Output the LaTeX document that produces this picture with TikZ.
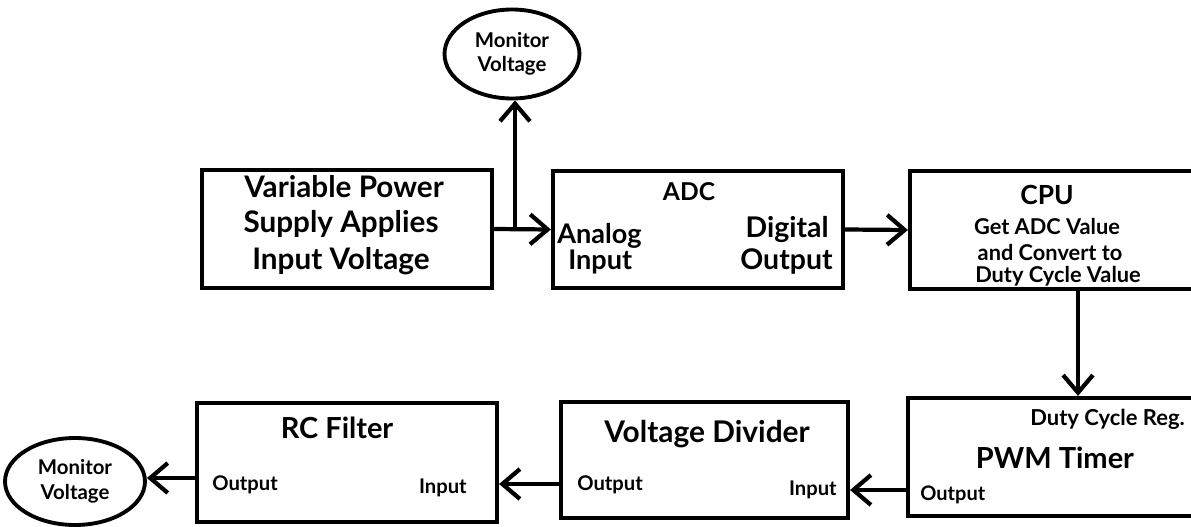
\documentclass[tikz,border=0pt]{standalone}
\usepackage{fontspec}
\setmainfont{Lato}
\usetikzlibrary{arrows.meta,shapes.geometric}
\newcommand\myfs[1]{\fontsize{#1}{1.2\dimexpr #1\relax}\selectfont\bfseries}
\tikzset{
  box/.style={draw, line width=2.4pt, rectangle, inner sep=0pt},
  oval/.style={draw, line width=2.2pt, ellipse, inner sep=0pt, align=center},
  arr/.style={line width=2.4pt, -{Straight Barb[length=10pt,width=17pt,line width=2.4pt]}},
  lbl/.style={inner sep=0pt, anchor=base},
  lblw/.style={inner sep=0pt, anchor=base west},
  lble/.style={inner sep=0pt, anchor=base east},
}
\begin{document}
\begin{tikzpicture}[x=0.02cm, y=-0.02cm]
\useasboundingbox (0,0) rectangle (1191,527);
\fill[white] (0,0) rectangle (1191,527);
\clip (0,0) rectangle (1191,527);

% boxes
\node[box, minimum width=5.8cm, minimum height=2.36cm] (vps) at (347,229) {};
\node[box, minimum width=5.8cm, minimum height=2.34cm] (adc) at (698,229.5) {};
\node[box, minimum width=6.4cm, minimum height=2.36cm] (cpu) at (1070,230) {};
\node[box, minimum width=6.44cm, minimum height=2.36cm] (pwm) at (1069,457) {};
\node[box, minimum width=5.74cm, minimum height=2.32cm] (vd) at (704.5,460) {};
\node[box, minimum width=6cm, minimum height=2.38cm] (rc) at (347,462.5) {};
\node[oval, minimum width=2.7cm, minimum height=1.78cm, font=\myfs{11.6pt}] (mon1) at (512,54) {Monitor\\Voltage};
\node[oval, minimum width=2.8cm, minimum height=1.74cm, font=\myfs{11.6pt}] (mon2) at (75,481.5) {Monitor\\Voltage};

% texts: power supply
\node[lbl, font=\myfs{16.9pt}] (t1) at (344,197) {Variable Power};
\node[lbl, font=\myfs{16.9pt}] (t2) at (341,233) {Supply Applies};
\node[lbl, font=\myfs{16.9pt}] (t3) at (341,269) {Input Voltage};
% ADC
\node[lbl, font=\myfs{14pt}] (t4) at (689,200) {ADC};
\node[lblw, font=\myfs{15.4pt}] (t5) at (557,243) {Analog};
\node[lblw, font=\myfs{15.4pt}] (t6) at (568,270) {Input};
\node[lble, font=\myfs{16.2pt}] (t7) at (829,237) {Digital};
\node[lble, font=\myfs{16.2pt}] (t8) at (833,270) {Output};
% CPU
\node[lbl, font=\myfs{15pt}] (t9) at (1047,205) {CPU};
\node[lbl, font=\myfs{12.4pt}] (t10) at (1047,235) {Get ADC Value};
\node[lbl, font=\myfs{12.4pt}] (t11) at (1050,260) {and Convert to};
\node[lbl, font=\myfs{12.4pt}] (t12) at (1058,282) {Duty Cycle Value};
% PWM
\node[lblw, font=\myfs{12.5pt}] (t13) at (1030,425) {Duty Cycle Reg.};
\node[lbl, font=\myfs{16.5pt}] (t14) at (1055,468) {PWM Timer};
\node[lblw, font=\myfs{11.4pt}] (t15) at (920,500) {Output};
% Voltage divider
\node[lbl, font=\myfs{17pt}] (t16) at (707,442) {Voltage Divider};
\node[lblw, font=\myfs{11.5pt}] (t17) at (577,490) {Output};
\node[lble, font=\myfs{11.5pt}] (t18) at (837,495) {Input};
% RC filter
\node[lbl, font=\myfs{16.5pt}] (t19) at (337,438) {RC Filter};
\node[lblw, font=\myfs{11.5pt}] (t20) at (212,490) {Output};
\node[lble, font=\myfs{11.5pt}] (t21) at (467,493) {Input};

% connectors
\coordinate (J) at (515,230);
\coordinate (dx) at (1078,0);
\coordinate (y1) at (0,490);
\coordinate (y2) at (0,484);
\coordinate (y3) at (0,478);
\draw[arr] (vps.east) -- (adc.west);
\draw[arr] (J) -- (J |- mon1.south);
\draw[arr] (adc.east) -- (cpu.west);
\draw[arr] (cpu.south -| dx) -- (pwm.north -| dx);
\draw[arr] (pwm.west |- y1) -- (vd.east |- y1);
\draw[arr] (vd.west |- y2) -- (rc.east |- y2);
\draw[arr] (rc.west |- y3) -- (mon2.east |- y3);
\end{tikzpicture}
\end{document}
